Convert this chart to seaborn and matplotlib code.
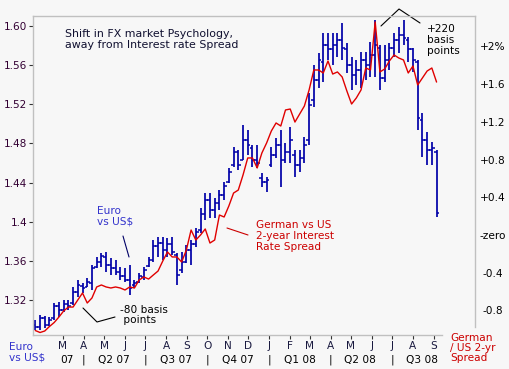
import numpy as np
import pandas as pd
import matplotlib
matplotlib.use("Agg")
import matplotlib.pyplot as plt
import matplotlib.dates as mdates
import seaborn as sns

# ---------------- data ----------------
weeks = pd.date_range("2007-01-19", periods=86, freq="7D")

eur_open = [1.294, 1.292, 1.302, 1.294, 1.302, 1.314, 1.310, 1.316, 1.317, 1.328,
            1.334, 1.333, 1.337, 1.354, 1.359, 1.364, 1.356, 1.353, 1.349, 1.345,
            1.340, 1.335, 1.338, 1.344, 1.355, 1.361, 1.375, 1.378, 1.371, 1.377,
            1.366, 1.351, 1.359, 1.371, 1.377, 1.392, 1.408, 1.422, 1.412, 1.419,
            1.427, 1.441, 1.458, 1.471, 1.463, 1.484, 1.475, 1.463, 1.445, 1.441,
            1.458, 1.468, 1.478, 1.463, 1.471, 1.468, 1.458, 1.465, 1.484, 1.524,
            1.545, 1.563, 1.581, 1.576, 1.581, 1.586, 1.576, 1.560, 1.550, 1.555,
            1.565, 1.560, 1.570, 1.578, 1.547, 1.565, 1.578, 1.586, 1.591, 1.586,
            1.576, 1.563, 1.504, 1.484, 1.473, 1.471]
eur_high = [1.300, 1.305, 1.304, 1.303, 1.317, 1.318, 1.320, 1.320, 1.333, 1.340,
            1.337, 1.342, 1.356, 1.364, 1.368, 1.369, 1.363, 1.361, 1.354, 1.353,
            1.356, 1.340, 1.348, 1.354, 1.364, 1.381, 1.384, 1.384, 1.383, 1.384,
            1.368, 1.369, 1.376, 1.381, 1.394, 1.414, 1.429, 1.429, 1.424, 1.432,
            1.441, 1.455, 1.476, 1.473, 1.499, 1.494, 1.478, 1.478, 1.450, 1.446,
            1.476, 1.486, 1.494, 1.480, 1.497, 1.473, 1.473, 1.487, 1.532, 1.560,
            1.572, 1.593, 1.593, 1.593, 1.593, 1.603, 1.583, 1.568, 1.565, 1.573,
            1.573, 1.584, 1.606, 1.581, 1.581, 1.583, 1.593, 1.599, 1.606, 1.589,
            1.578, 1.565, 1.511, 1.492, 1.481, 1.473]
eur_low = [1.289, 1.289, 1.291, 1.293, 1.300, 1.303, 1.308, 1.310, 1.315, 1.323,
           1.327, 1.333, 1.330, 1.353, 1.354, 1.349, 1.346, 1.346, 1.340, 1.338,
           1.325, 1.332, 1.337, 1.340, 1.354, 1.359, 1.364, 1.361, 1.364, 1.366,
           1.335, 1.348, 1.358, 1.356, 1.374, 1.388, 1.402, 1.404, 1.404, 1.412,
           1.422, 1.440, 1.456, 1.453, 1.463, 1.468, 1.456, 1.455, 1.435, 1.430,
           1.456, 1.465, 1.435, 1.460, 1.460, 1.446, 1.451, 1.460, 1.478, 1.517,
           1.537, 1.543, 1.565, 1.560, 1.568, 1.565, 1.552, 1.535, 1.540, 1.537,
           1.545, 1.548, 1.548, 1.535, 1.543, 1.555, 1.568, 1.572, 1.581, 1.563,
           1.553, 1.494, 1.466, 1.458, 1.458, 1.405]
eur_close = [1.292, 1.302, 1.294, 1.300, 1.314, 1.310, 1.316, 1.314, 1.328, 1.335,
             1.332, 1.338, 1.353, 1.359, 1.365, 1.356, 1.353, 1.349, 1.345, 1.340,
             1.332, 1.337, 1.345, 1.351, 1.361, 1.375, 1.378, 1.371, 1.377, 1.369,
             1.346, 1.359, 1.371, 1.377, 1.389, 1.408, 1.422, 1.412, 1.419, 1.427,
             1.437, 1.451, 1.471, 1.458, 1.484, 1.478, 1.463, 1.460, 1.441, 1.443,
             1.468, 1.478, 1.463, 1.471, 1.484, 1.458, 1.465, 1.478, 1.519, 1.545,
             1.565, 1.581, 1.576, 1.581, 1.586, 1.578, 1.560, 1.550, 1.555, 1.565,
             1.560, 1.570, 1.581, 1.547, 1.565, 1.578, 1.586, 1.591, 1.588, 1.576,
             1.565, 1.506, 1.484, 1.473, 1.475, 1.409]
spread = [-1.013, -1.034, -1.018, -0.970, -0.928, -0.870, -0.806, -0.764, -0.764, -0.689,
          -0.615, -0.721, -0.668, -0.551, -0.530, -0.551, -0.562, -0.551, -0.562, -0.583,
          -0.551, -0.562, -0.477, -0.445, -0.467, -0.424, -0.382, -0.276, -0.180, -0.233,
          -0.233, -0.286, -0.159, 0.053, -0.053, 0.000, 0.064, -0.085, -0.053, 0.212,
          0.191, 0.308, 0.445, 0.477, 0.636, 0.817, 0.817, 0.711, 0.870, 0.976,
          1.103, 1.188, 1.156, 1.326, 1.336, 1.198, 1.283, 1.368, 1.538, 1.750,
          1.750, 1.718, 1.845, 1.707, 1.729, 1.676, 1.527, 1.389, 1.453, 1.538,
          1.771, 1.750, 2.259, 1.729, 1.760, 1.845, 1.909, 1.877, 1.856, 1.718,
          1.792, 1.591, 1.665, 1.739, 1.771, 1.622]

left_ticks = [1.32, 1.36, 1.40, 1.44, 1.48, 1.52, 1.56, 1.60]
left_labels = ["1.32", "1.36", "1.4", "1.44", "1.48", "1.52", "1.56", "1.60"]
right_ticks = [2.0, 1.6, 1.2, 0.8, 0.4, 0.0, -0.4, -0.8]
right_labels = ["+2%", "+1.6", "+1.2", "+0.8", "+0.4", "-zero", "-0.4", "-0.8"]
month_ticks = pd.date_range("2007-03-01", "2008-09-01", freq="MS")
month_labels = ["M", "A", "M", "J", "J", "A", "S", "O", "N", "D",
                "J", "F", "M", "A", "M", "J", "J", "A", "S"]
quarter_pos = pd.to_datetime(["2007-03-07", "2007-05-15", "2007-08-15", "2007-11-15",
                              "2008-02-15", "2008-05-15", "2008-08-15"])
quarter_labels = ["07", "Q2 07", "Q3 07", "Q4 07", "Q1 08", "Q2 08", "Q3 08"]
quarter_seps = pd.to_datetime(["2007-04-01", "2007-07-01", "2007-10-01",
                               "2008-01-01", "2008-04-01", "2008-07-01"])

# ---------------- style ----------------
sns.set_theme(style="white")
plt.rcParams["font.family"] = ["DejaVu Sans"]

BG = "#f7f7f7"
BLUE = "#0000a8"
RED = "#e00000"
FRAME = "#c0c0c0"
FS = 7.6

fig = plt.figure(figsize=(5.1, 3.69), dpi=100, facecolor=BG)
ax = fig.add_axes([33 / 510, 1 - 335 / 369, 442 / 510, 319 / 369])
ax.set_facecolor(BG)
ax2 = ax.twinx()

# OHLC bars
tick_len = pd.Timedelta(days=4)
ax.vlines(weeks, eur_low, eur_high, color=BLUE, lw=1.25, zorder=2)
ax.hlines(eur_open, weeks - tick_len, weeks, color=BLUE, lw=1.1, zorder=2)
ax.hlines(eur_close, weeks, weeks + tick_len, color=BLUE, lw=1.1, zorder=2)

# spread line
sns.lineplot(x=weeks, y=spread, ax=ax2, color=RED, lw=1.0, legend=False)

# limits
x_left = pd.Timestamp("2007-01-15 14:00")
x_right = pd.Timestamp("2008-11-01")
ax.set_xlim(x_left, x_right)
ax.set_ylim(1.28424, 1.61022)
ax2.set_ylim(-1.0604, 2.3224)

# x axis
ax.set_xticks(month_ticks)
ax.set_xticklabels(month_labels)
ax.tick_params(axis="x", bottom=True, length=3, width=0.8, color="#333333",
               pad=1.5, labelsize=FS, labelcolor="#1a1a40")
ax.set_xlabel("")
ax2.set_xlabel("")

# left axis
ax.set_yticks(left_ticks)
ax.set_yticklabels(left_labels)
ax.tick_params(axis="y", left=True, length=3, width=0.8, color="#333333",
               pad=1, labelsize=FS, labelcolor="#330033")
ax.set_ylabel("")

# right axis
ax2.set_yticks(right_ticks)
ax2.set_yticklabels(right_labels)
ax2.tick_params(axis="y", right=True, length=0, pad=12.5, labelsize=FS,
                labelcolor="#000000")
for lbl in ax2.get_yticklabels():
    lbl.set_horizontalalignment("center")
ax2.set_ylabel("")

# spines / frame
for s in ["left", "top", "bottom"]:
    ax.spines[s].set_color(FRAME)
    ax.spines[s].set_linewidth(1.0)
    ax.spines[s].set_visible(True)
ax.spines["right"].set_visible(False)
ax.spines["bottom"].set_bounds(mdates.date2num(x_left),
                               mdates.date2num(pd.Timestamp("2008-09-13")))
for s in ["left", "top", "bottom"]:
    ax2.spines[s].set_visible(False)
ax2.spines["right"].set_visible(True)
ax2.spines["right"].set_color(FRAME)
ax2.spines["right"].set_linewidth(1.0)
ax2.spines["right"].set_bounds(-0.976, 2.3224)
ax.grid(False)
ax2.grid(False)

# quarter row
blend = ax.get_xaxis_transform()
for p, q in zip(quarter_pos, quarter_labels):
    ax.text(p, -0.078, q, transform=blend, ha="center", va="center",
            fontsize=FS, color="#000000", clip_on=False)
for p in quarter_seps:
    ax.text(p, -0.078, "|", transform=blend, ha="center", va="center",
            fontsize=FS, color="#000000", clip_on=False)

# annotations inside the plot
T = ax.transAxes
ax.text(0.0724, 0.926, "Shift in FX market Psychology,\naway from Interest rate Spread",
        transform=T, ha="left", va="center", fontsize=7.9, color="#101030",
        linespacing=1.15)
ax.text(0.145, 0.373, "Euro\nvs US$", transform=T, ha="left", va="center",
        fontsize=FS, color="#3333cc", linespacing=1.1)
ax.plot([0.2036, 0.2172], [0.3103, 0.2445], transform=T, color="#000066", lw=0.8)
ax.text(0.197, 0.0627, "-80 basis\n points", transform=T, ha="left", va="center",
        fontsize=FS, color="#000000", linespacing=1.1)
ax.plot([0.1131, 0.1448, 0.1855], [0.0846, 0.0408, 0.0564], transform=T,
        color="#000000", lw=0.8)
ax.text(0.5045, 0.310, "German vs US\n2-year Interest\nRate Spread", transform=T,
        ha="left", va="center", fontsize=FS, color="#cc0000", linespacing=1.1)
ax.plot([0.4389, 0.4864], [0.3354, 0.3135], transform=T, color="#cc0000", lw=0.8)
ax.text(0.891, 0.925, "+220\nbasis\npoints", transform=T, ha="left", va="center",
        fontsize=FS, color="#000000", linespacing=1.1)
ax.plot([0.7873, 0.8281, 0.8756], [0.9687, 1.0219, 0.9781], transform=T,
        color="#000000", lw=0.8, clip_on=False)

# outside labels
fig.text(9 / 510, 1 - 352 / 369, "Euro\nvs US$", ha="left", va="center",
         fontsize=FS, color="#3333cc", linespacing=1.05)
fig.text(450 / 510, 1 - 348 / 369, "German\n/ US 2-yr\nSpread", ha="left",
         va="center", fontsize=FS, color="#cc0000", linespacing=1.05)

fig.savefig("out.png", dpi=100, facecolor=BG)
